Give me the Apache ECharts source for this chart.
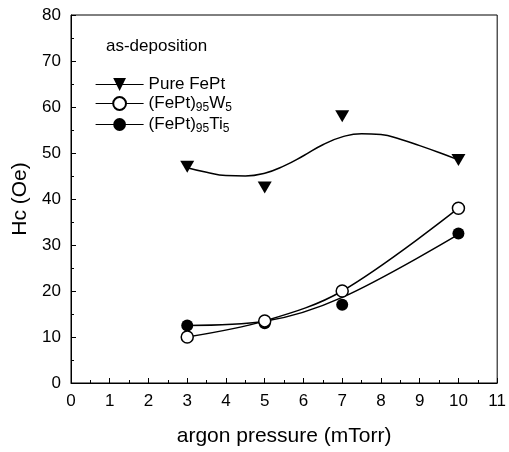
<!doctype html>
<html>
<head>
    <meta charset="utf-8">
    <script src="https://cdn.jsdelivr.net/npm/echarts@6/dist/echarts.min.js"></script>
</head>
<body style="margin: 0; background: #fff">
    <div id="container" style="width: 509px; height: 452px"></div>
    <script type="text/javascript">
        var pressure = [3, 5, 7, 10];
        var pureFePt = [47, 42.5, 58, 48.5];
        var fePtW = [10, 13.5, 20, 38];
        var fePtTi = [12.5, 13, 17, 32.5];

        // fitted curves
        var fitPureX = [3, 3.5, 4, 4.5, 5, 5.5, 6, 6.5, 7, 7.5, 8, 8.5, 9, 9.5, 10];
        var fitPureY = [46.8, 45.8, 45.1, 45.0, 45.6, 47.2, 49.4, 51.8, 53.5, 54.2, 54.0, 53.0, 51.6, 50.1, 48.5];
        var fitTiX = [3, 5, 7, 10];
        var fitTiY = [12.5, 13.4, 18.6, 32.3];

        function pairs(xs, ys) {
            return xs.map(function (x, i) { return [x, ys[i]]; });
        }

        var dom = document.getElementById('container');
        var myChart = echarts.init(dom);
        var font = 'Liberation Sans, Arial, sans-serif';
        var sub = { fontSize: 12, verticalAlign: 'bottom', padding: [9, 0, 0, 0], fontFamily: font, color: '#000' };

        var option = {
            animation: false,
            textStyle: { fontFamily: font, color: '#000' },
            title: {
                text: 'as-deposition',
                left: 101, top: 33,
                textStyle: { fontSize: 17, fontWeight: 'normal', color: '#000', fontFamily: font }
            },
            legend: {
                orient: 'vertical',
                left: 90, top: 71,
                itemWidth: 48, itemHeight: 16, itemGap: 2,
                data: ['Pure FePt', 'W5', 'Ti5'],
                lineStyle: { color: '#000', width: 1.2, opacity: 1 },
                textStyle: {
                    fontSize: 17, color: '#000', fontFamily: font,
                    rich: { sub: sub, n: { fontSize: 17, fontFamily: font, color: '#000' } }
                },
                formatter: function (name) {
                    if (name === 'W5') return '{n|(FePt)}{sub|95}{n|W}{sub|5}';
                    if (name === 'Ti5') return '{n|(FePt)}{sub|95}{n|Ti}{sub|5}';
                    return name;
                }
            },
            grid: {
                left: 71, right: 10, top: 15, bottom: 67,
                show: true, borderColor: '#000', borderWidth: 1
            },
            xAxis: {
                type: 'value', min: 0, max: 11, interval: 1,
                name: 'argon pressure (mTorr)', nameLocation: 'middle', nameGap: 43,
                nameTextStyle: { fontSize: 21, color: '#000' },
                axisLine: { lineStyle: { color: '#000', width: 1 } },
                axisTick: { inside: true, length: 5, lineStyle: { color: '#000' } },
                minorTick: { show: true, splitNumber: 2, length: 3, lineStyle: { color: '#000' } },
                axisLabel: { fontSize: 17, color: '#000', margin: 10 },
                splitLine: { show: false }
            },
            yAxis: {
                type: 'value', min: 0, max: 80, interval: 10,
                name: 'Hc (Oe)', nameLocation: 'middle', nameGap: 40,
                nameTextStyle: { fontSize: 21, color: '#000' },
                axisLine: { show: true, lineStyle: { color: '#000', width: 1 } },
                axisTick: { show: true, inside: true, length: 5, lineStyle: { color: '#000' } },
                minorTick: { show: true, splitNumber: 2, length: 3, lineStyle: { color: '#000' } },
                axisLabel: { fontSize: 17, color: '#000', margin: 10 },
                splitLine: { show: false }
            },
            series: [
                {
                    type: 'line', data: pairs(fitPureX, fitPureY), smooth: true,
                    showSymbol: false, silent: true,
                    lineStyle: { color: '#000', width: 1.5 }
                },
                {
                    type: 'line', data: pairs(pressure, fePtW), smooth: 0.35,
                    showSymbol: false, silent: true,
                    lineStyle: { color: '#000', width: 1.5 }
                },
                {
                    type: 'line', data: pairs(fitTiX, fitTiY), smooth: 0.35,
                    showSymbol: false, silent: true,
                    lineStyle: { color: '#000', width: 1.5 }
                },
                {
                    name: 'Pure FePt', type: 'line', data: pairs(pressure, pureFePt),
                    symbol: 'triangle', symbolRotate: 180, symbolSize: [14, 12],
                    itemStyle: { color: '#000' },
                    lineStyle: { opacity: 0 }, z: 5
                },
                {
                    name: 'Ti5', type: 'line', data: pairs(pressure, fePtTi),
                    symbol: 'circle', symbolSize: 12,
                    itemStyle: { color: '#000' },
                    lineStyle: { opacity: 0 }, z: 5
                },
                {
                    name: 'W5', type: 'line', data: pairs(pressure, fePtW),
                    symbol: 'circle', symbolSize: 12,
                    itemStyle: { color: '#fff', borderColor: '#000', borderWidth: 1.5 },
                    lineStyle: { opacity: 0 }, z: 6
                }
            ]
        };
        myChart.setOption(option);
    </script>
</body>
</html>
